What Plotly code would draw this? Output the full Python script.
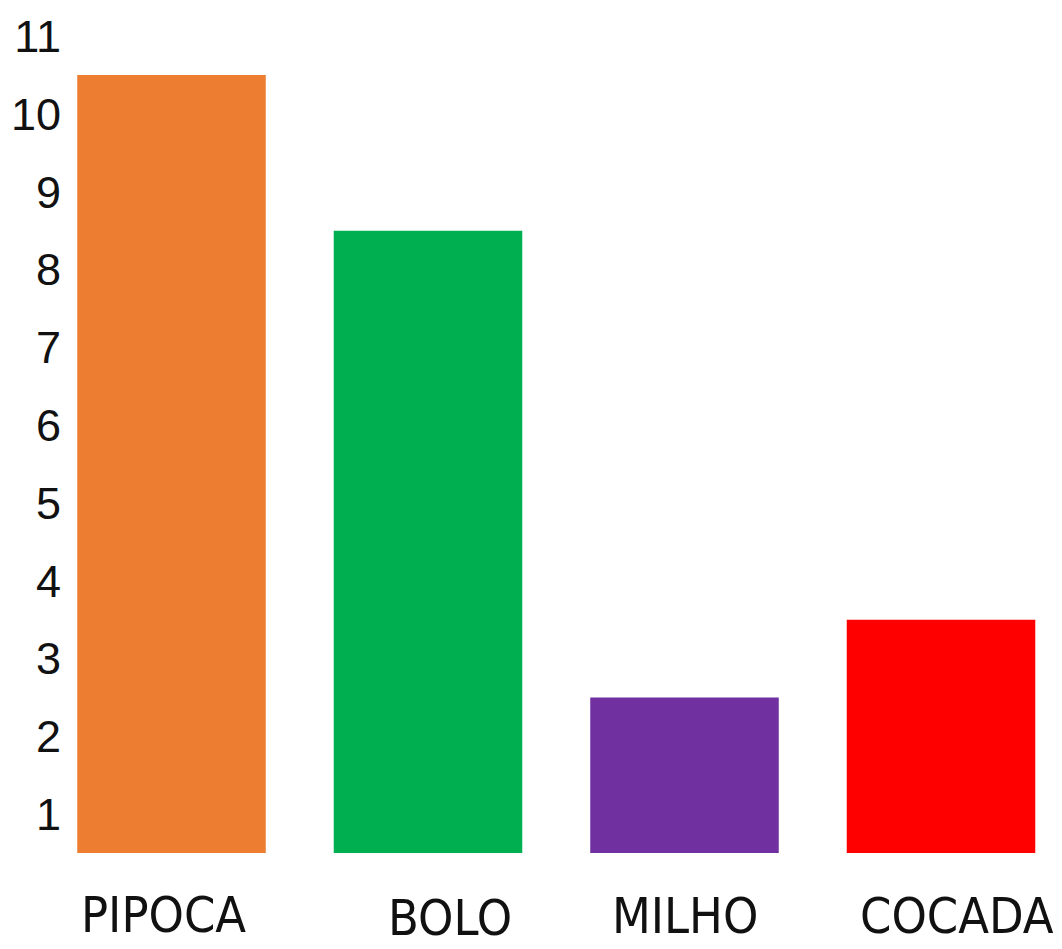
import plotly.graph_objects as go

categories = ["PIPOCA", "BOLO", "MILHO", "COCADA"]
values = [10, 8, 2, 3]
colors = ["#ED7D31", "#00B050", "#7030A0", "#FF0000"]
y_ticks = list(range(1, 12))
bar_base = 0.5

# the page body adds an 8px margin, so the figure is drawn 8px in from the corner
OFF = 8
W, H = 1062 - OFF, 949 - OFF
# layout geometry (figure pixels)
x0_px, x_step = 171.5 - OFF, 256.5    # pixel of first category, spacing
y0_px, y_step = 892.0 - OFF, 77.8     # pixel of value 0, px per unit
ml, mr, mt, mb = 62 - OFF, 0, 0, 89

x_range = [(ml - x0_px) / x_step, (W - mr - x0_px) / x_step]
y_range = [(y0_px - (H - mb)) / y_step, (y0_px - mt) / y_step]
plot_h = H - mt - mb

xs = list(range(len(categories)))

fig = go.Figure()
fig.add_trace(go.Bar(
    x=xs, y=values, base=bar_base,
    marker=dict(color=colors, line=dict(width=0)),
    width=0.735,
    hoverinfo="skip",
))

label_shift = [-8, 22, 0, 16]
label_px = [915, 918, 916, 916]   # vertical centre of each label (reference px from top)
for i, (c, dx, py) in enumerate(zip(categories, label_shift, label_px)):
    fig.add_annotation(
        x=i, y=(H - mb - (py - OFF)) / plot_h, xref="x", yref="paper",
        text=c, showarrow=False, xshift=dx,
        xanchor="center", yanchor="middle",
        font=dict(family="Liberation Sans Narrow, Arial Narrow, DejaVu Sans Condensed, sans-serif",
                  size=50, color="#111111"),
    )

fig.update_layout(
    width=W, height=H,
    margin=dict(l=ml, r=mr, t=mt, b=mb, pad=0, autoexpand=False),
    paper_bgcolor="white", plot_bgcolor="white",
    showlegend=False,
)
fig.update_xaxes(range=x_range, showticklabels=False, showgrid=False,
                 zeroline=False, showline=False, ticks="", automargin=False)
fig.update_yaxes(range=y_range, tickvals=y_ticks, ticktext=[str(v) for v in y_ticks],
                 showgrid=False, zeroline=False, showline=False, ticks="", automargin=False,
                 tickfont=dict(family="Liberation Sans, Arial, sans-serif", size=45, color="#111111"))

fig.write_html("out.html")
